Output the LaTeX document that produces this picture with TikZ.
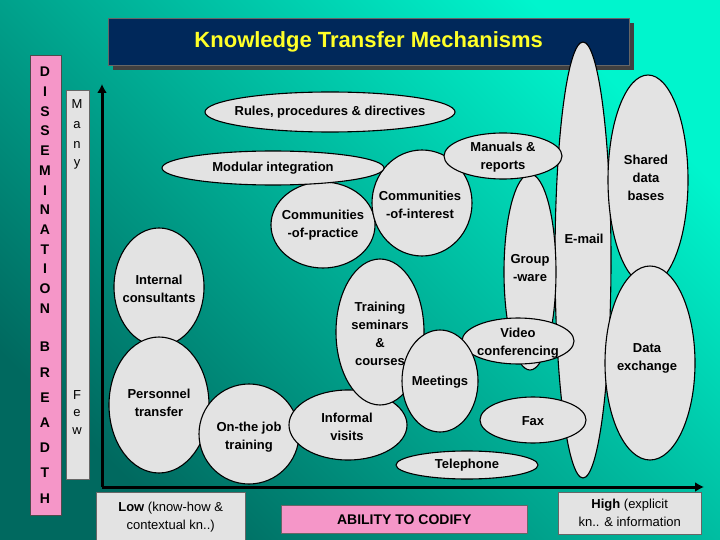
\documentclass[tikz,border=0pt]{standalone}
\usepackage{fontspec}
\setmainfont{Liberation Sans}
\usetikzlibrary{shapes.geometric,arrows.meta}
\definecolor{bgdark}{RGB}{0,105,95}
\definecolor{bglight}{RGB}{0,245,205}
\definecolor{titleblue}{RGB}{0,40,90}
\definecolor{titleyellow}{RGB}{255,255,40}
\definecolor{pinkbox}{RGB}{245,150,200}
\begin{document}
\begin{tikzpicture}[x=1pt,y=-1pt,
  ell/.style={ellipse,draw=black,line width=1.1pt,fill=gray!22,inner sep=0pt},
  lbl/.style={font=\fontsize{13}{15}\selectfont\bfseries,align=center,inner sep=0pt},
  ltr/.style={font=\fontsize{14}{15}\selectfont\bfseries,inner sep=0pt},
  axis/.style={line width=3pt,-{Latex[length=9pt,width=10pt]}}]
\useasboundingbox (0,0) rectangle (720,540);
\shade[top color=bglight,bottom color=bgdark,shading angle=-45] (0,0) rectangle (720,540);
% title
\fill[black!75] (113,23) rectangle (634,70);
\node[draw=black!60,fill=titleblue,minimum width=521pt,minimum height=47pt,anchor=north west,
  font=\fontsize{22}{24}\selectfont\bfseries,text=titleyellow] (title) at (108,18) {Knowledge Transfer Mechanisms};
% side boxes
\node[draw=black!70,fill=pinkbox,minimum width=31pt,minimum height=460pt,anchor=north west] (diss) at (30,55) {};
\node[draw=black!60,fill=gray!22,minimum width=23pt,minimum height=389pt,anchor=north west] (many) at (66,90) {};
\foreach \l [count=\i] in {D,I,S,S,E,M,I,N,A,T,I,O,N}
  \node[ltr] (d\i) at (45,72+\i*19.7-19.7) {\l};
\foreach \l [count=\i] in {B,R,E,A,D,T,H}
  \node[ltr] (b\i) at (45,347+\i*25.2-25.2) {\l};
\foreach \l/\yy [count=\i] in {M/104,a/125,n/145,y/164}
  \node[ltr,font=\fontsize{13}{15}\selectfont] (m\i) at (77,\yy) {\l};
\foreach \l/\yy [count=\i] in {F/395,e/413,w/431}
  \node[ltr,font=\fontsize{13}{15}\selectfont] (f\i) at (77,\yy) {\l};
% ellipses
\node[ell,minimum width=56pt,minimum height=436pt] (email) at (583,260) {};
\node[lbl] (emailt) at (584,239) {E-mail};
\node[ell,minimum width=80pt,minimum height=210pt] (shared) at (648,180) {};
\node[lbl] (sharedt) at (646,178) {Shared\\[3pt]data\\[3pt]bases};
\node[ell,minimum width=90pt,minimum height=194pt] (dataex) at (650,363) {};
\node[lbl] (dataext) at (647,358) {Data\\[3pt]exchange};
\node[ell,minimum width=52pt,minimum height=196pt] (group) at (530,272) {};
\node[lbl] (groupt) at (530,268) {Group\\[3pt]-ware};
\node[ell,minimum width=104pt,minimum height=86pt] (cop) at (323,225) {};
\node[ell,minimum width=100pt,minimum height=106pt] (coi) at (422,203) {};
\node[lbl] (copt) at (323,225) {Communities\\[3pt]-of-practice};
\node[lbl] (coit) at (420,205) {Communities\\[3pt]-of-interest};
\node[ell,minimum width=118pt,minimum height=46pt] (manual) at (503,156) {};
\node[lbl] (manualt) at (503,157) {Manuals \&\\[3pt]reports};
\node[ell,minimum width=250pt,minimum height=40pt] (rules) at (330,112) {};
\node[lbl] (rulest) at (330,112) {Rules, procedures \& directives};
\node[ell,minimum width=222pt,minimum height=34pt] (modular) at (273,168) {};
\node[lbl] (modulart) at (273,168) {Modular integration};
\node[ell,minimum width=90pt,minimum height=118pt] (internal) at (159,287) {};
\node[lbl] (internalt) at (159,289) {Internal\\[3pt]consultants};
\node[ell,minimum width=100pt,minimum height=136pt] (personnel) at (159,405) {};
\node[lbl] (personnelt) at (159,403) {Personnel\\[3pt]transfer};
\node[ell,minimum width=100pt,minimum height=100pt] (ojt) at (249,434) {};
\node[lbl] (ojtt) at (249,437) {On-the job\\[3pt]training};
\node[ell,minimum width=118pt,minimum height=70pt] (informal) at (348,425) {};
\node[lbl] (informalt) at (347,427) {Informal\\[3pt]visits};
\node[ell,minimum width=88pt,minimum height=146pt] (training) at (380,332) {};
\node[lbl] (trainingt) at (380,334) {Training\\[3pt]seminars\\[3pt]\&\\[3pt]courses};
\node[ell,minimum width=112pt,minimum height=46pt] (video) at (518,341) {};
\node[lbl] (videot) at (518,343) {Video\\[3pt]conferencing};
\node[ell,minimum width=76pt,minimum height=102pt] (meet) at (440,381) {};
\node[lbl] (meett) at (440,382) {Meetings};
\node[ell,minimum width=106pt,minimum height=46pt] (fax) at (533,420) {};
\node[lbl] (faxt) at (533,421) {Fax};
\node[ell,minimum width=142pt,minimum height=28pt] (tel) at (467,465) {};
\node[lbl] (telt) at (467,465) {Telephone};
% axes
\coordinate (o) at (102,487);
\coordinate (ytop) at (102,84);
\coordinate (xend) at (704,487);
\draw[axis] (o) -- (ytop);
\draw[axis] (o) -- (xend);
% bottom boxes
\node[draw=black!60,fill=gray!22,minimum width=149pt,minimum height=50pt,anchor=north west,align=center,
  font=\fontsize{13}{18}\selectfont] (low) at (96,492) {\textbf{Low} (know-how \&\\contextual kn..)};
\node[draw=black!60,fill=gray!22,minimum width=143pt,minimum height=42pt,anchor=north west,align=center,
  font=\fontsize{13}{18}\selectfont] (high) at (558,492) {\textbf{High} (explicit\\kn.. \& information};
\node[draw=black!60,fill=pinkbox,minimum width=246pt,minimum height=28pt,anchor=north west,
  font=\fontsize{14}{16}\selectfont\bfseries] (abil) at (281,505) {ABILITY TO CODIFY};
\end{tikzpicture}
\end{document}
